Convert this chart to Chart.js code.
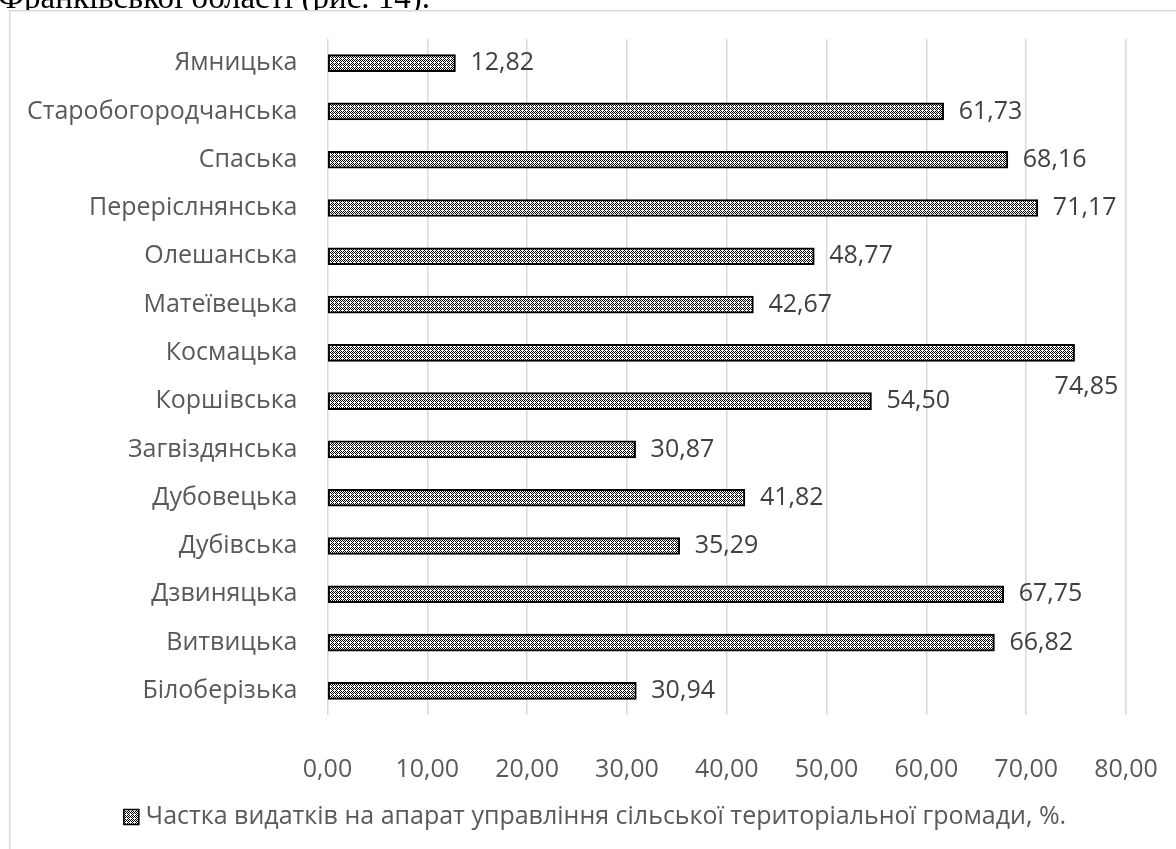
<!DOCTYPE html>
<html>
<head>
<meta charset="utf-8">
<script src="https://cdn.jsdelivr.net/npm/chart.js@4/dist/chart.umd.min.js"></script>
<style>
  html, body { margin: 0; padding: 0; background: #fff; }
  #wrap { position: relative; width: 1176px; height: 849px; overflow: hidden; background: #fff; }
  #c { position: absolute; left: 0; top: 0; }
</style>
</head>
<body>
<div id="wrap">
  <canvas id="c" width="1176" height="849"></canvas>
</div>
<script>
const categories = ["Ямницька", "Старобогородчанська", "Спаська", "Перерíслнянська".replace("í","і"), "Олешанська", "Матеївецька", "Космацька", "Коршівська", "Загвіздянська", "Дубовецька", "Дубівська", "Дзвиняцька", "Витвицька", "Білоберізька"];
const values = [12.82, 61.73, 68.16, 71.17, 48.77, 42.67, 74.85, 54.50, 30.87, 41.82, 35.29, 67.75, 66.82, 30.94];
const xTicks = [0, 10, 20, 30, 40, 50, 60, 70, 80];
const seriesName = "Частка видатків на апарат управління сільської територіальної громади, %.";
const topCaption = "Франківської області (рис. 14).";

const FONT = '"Open Sans", sans-serif';
const FS = 25;

function makePattern() {
  const p = document.createElement('canvas');
  p.width = 4; p.height = 4;
  const g = p.getContext('2d');
  g.fillStyle = '#fff'; g.fillRect(0, 0, 4, 4);
  g.fillStyle = '#000';
  const blk = [[0,0],[2,0],[1,1],[3,1],[0,2],[1,3],[3,3]];
  blk.forEach(([x,y]) => g.fillRect(x, y, 1, 1));
  return p;
}
const ctxMain = document.getElementById('c').getContext('2d');
const pattern = ctxMain.createPattern(makePattern(), 'repeat');

const fmt = v => v.toFixed(2).replace('.', ',');

const captionPlugin = {
  id: 'caption',
  beforeDraw(chart) {
    const ctx = chart.ctx;
    ctx.save();
    ctx.setTransform(1, 0, 0, 1, 0, 0);
    ctx.font = '33px "Liberation Serif", "Times New Roman", serif';
    ctx.fillStyle = '#000';
    ctx.textBaseline = 'alphabetic';
    ctx.textAlign = 'left';
    ctx.fillText(topCaption, -2, 8);
    // chart object (white) covers what lies below its top edge
    ctx.fillStyle = '#fff';
    ctx.fillRect(9, 10, 1176, 849);
    ctx.strokeStyle = '#d9d9d9';
    ctx.lineWidth = 1.5;
    ctx.beginPath();
    ctx.moveTo(9.75, 849); ctx.lineTo(9.75, 10.75); ctx.lineTo(1176, 10.75);
    ctx.stroke();
    ctx.restore();
  }
};

const labelPlugin = {
  id: 'valueLabels',
  afterDatasetsDraw(chart) {
    const ctx = chart.ctx;
    const meta = chart.getDatasetMeta(0);
    ctx.save();
    ctx.font = FS + 'px ' + FONT;
    ctx.fillStyle = '#404040';
    ctx.textBaseline = 'middle';
    ctx.textAlign = 'left';
    meta.data.forEach((bar, i) => {
      let x = bar.x + 15, y = bar.y;
      if (categories[i] === 'Космацька') { x = bar.x - 20; y = bar.y + 34; }
      ctx.fillText(fmt(values[i]), x, y);
    });
    ctx.restore();
  }
};

const legendPlugin = {
  id: 'customLegend',
  afterDraw(chart) {
    const ctx = chart.ctx;
    ctx.save();
    ctx.font = FS + 'px ' + FONT;
    const tw = ctx.measureText(seriesName).width;
    const box = 15, gap = 7;
    const total = box + gap + tw;
    const cx = 595, cy = 817;
    const x0 = cx - total / 2;
    ctx.fillStyle = pattern;
    ctx.fillRect(x0, cy - box / 2, box, box);
    ctx.strokeStyle = '#000'; ctx.lineWidth = 1.5;
    ctx.strokeRect(x0, cy - box / 2, box, box);
    ctx.fillStyle = '#595959';
    ctx.textBaseline = 'middle';
    ctx.fillText(seriesName, x0 + box + gap, cy);
    ctx.restore();
  }
};

new Chart(ctxMain, {
  type: 'bar',
  data: {
    labels: categories,
    datasets: [{
      label: seriesName,
      data: values,
      backgroundColor: pattern,
      borderColor: '#000',
      borderWidth: 2,
      borderSkipped: false,
      barThickness: 17
    }]
  },
  options: {
    indexAxis: 'y',
    responsive: false,
    animation: false,
    events: [],
    layout: { padding: { top: 39, right: 50, bottom: 0, left: 0 } },
    plugins: { legend: { display: false }, tooltip: { enabled: false } },
    scales: {
      x: {
        min: 0, max: 80,
        afterBuildTicks(scale) { scale.ticks = xTicks.map(v => ({ value: v })); },
        grid: { color: '#d9d9d9', lineWidth: 1.5, drawTicks: false },
        border: { display: false },
        ticks: { padding: 40, color: '#595959', font: { family: FONT, size: FS }, callback: v => fmt(v) },
        afterFit(scale) { scale.height = 134; scale.paddingLeft = 0; scale.paddingRight = 0; }
      },
      y: {
        grid: { display: false, drawTicks: false },
        border: { display: false },
        ticks: { padding: 30, color: '#595959', font: { family: FONT, size: FS } },
        afterFit(scale) { scale.width = 327.5; scale.paddingTop = 0; scale.paddingBottom = 0; }
      }
    }
  },
  plugins: [captionPlugin, labelPlugin, legendPlugin]
});
</script>
</body>
</html>
